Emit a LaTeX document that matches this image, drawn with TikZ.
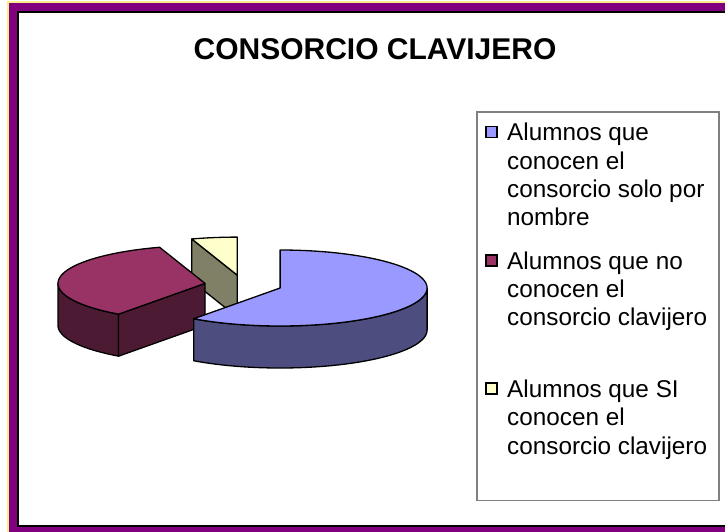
\documentclass[tikz,border=0pt]{standalone}
\usepackage{fontspec}
\setmainfont{Liberation Sans}
\definecolor{frameP}{HTML}{800080}
\definecolor{frameY}{HTML}{FFEE88}
\definecolor{blueT}{HTML}{9999FF}
\definecolor{blueS}{HTML}{4D4D80}
\definecolor{marT}{HTML}{993366}
\definecolor{marS}{HTML}{4D1A33}
\definecolor{yelT}{HTML}{FFFFCC}
\definecolor{yelS}{HTML}{808066}
\definecolor{legB}{HTML}{808080}
\tikzset{
  face/.style={draw=black,line width=1.3pt,line join=round},
  legtxt/.style={anchor=base west,inner sep=0pt,font=\fontsize{24.3}{28}\selectfont},
  legsq/.style={draw=black,line width=1.1pt,minimum size=11pt,inner sep=0pt},
}
\begin{document}
\begin{tikzpicture}[x=1pt,y=-1pt]
\useasboundingbox (0,0) rectangle (725,531);
\clip (0,0) rectangle (725,531);
\fill[white] (0,0) rectangle (725,531);
% frame
\fill[frameY] (7,1) rectangle (730,540);
\fill[frameP] (8.5,2.5) rectangle (730,540);
\draw[fill=white,line width=2pt] (18,12) rectangle (740,526);
% title
\node[anchor=base,inner sep=0pt,font=\fontsize{30}{34}\selectfont\bfseries] (title) at (375,59) {CONSORCIO CLAVIJERO};
% pie parameters
\def\rx{147}\def\ry{38}\def\hh{42}
% yellow slice, centre (237.2,275.1), 90..108
\def\cx{237.2}\def\cy{275.1}
\fill[yelS] (\cx,\cy) -- ({\cx+\rx*cos(108)},{\cy-\ry*sin(108)}) -- ({\cx+\rx*cos(108)},{\cy-\ry*sin(108)+\hh}) -- (\cx,\cy+\hh) -- cycle;
\draw[face] (\cx,\cy) -- ({\cx+\rx*cos(108)},{\cy-\ry*sin(108)}) -- ({\cx+\rx*cos(108)},{\cy-\ry*sin(108)+\hh}) -- (\cx,\cy+\hh) -- cycle;
\draw[face,fill=yelT] (\cx,\cy) -- plot[domain=90:108,samples=10] ({\cx+\rx*cos(\x)},{\cy-\ry*sin(\x)}) -- cycle;
% maroon slice, centre (205,283.4), 108..234
\def\cx{205}\def\cy{283.4}
\draw[face,fill=marS] plot[domain=180:234,samples=30] ({\cx+\rx*cos(\x)},{\cy-\ry*sin(\x)}) -- plot[domain=234:180,samples=30] ({\cx+\rx*cos(\x)},{\cy-\ry*sin(\x)+\hh}) -- cycle;
\draw[face,fill=marS] (\cx,\cy) -- ({\cx+\rx*cos(234)},{\cy-\ry*sin(234)}) -- ({\cx+\rx*cos(234)},{\cy-\ry*sin(234)+\hh}) -- (\cx,\cy+\hh) -- cycle;
\draw[face,fill=marT] (\cx,\cy) -- plot[domain=108:234,samples=60] ({\cx+\rx*cos(\x)},{\cy-\ry*sin(\x)}) -- cycle;
% blue slice, centre (280.1,288), 234..450
\def\cx{280.1}\def\cy{288}
\draw[face,fill=blueS] plot[domain=234:360,samples=50] ({\cx+\rx*cos(\x)},{\cy-\ry*sin(\x)}) -- plot[domain=360:234,samples=50] ({\cx+\rx*cos(\x)},{\cy-\ry*sin(\x)+\hh}) -- cycle;
\draw[face,fill=blueT] (\cx,\cy) -- plot[domain=234:450,samples=90] ({\cx+\rx*cos(\x)},{\cy-\ry*sin(\x)}) -- cycle;
% legend
\draw[legB,line width=1.5pt,fill=white] (477,112) rectangle (719,500.5);
\node[legsq,fill=blueT] (s1) at (491.5,132.3) {};
\node[legsq,fill=marT] (s2) at (491.5,260.5) {};
\node[legsq,fill=yelT] (s3) at (491.5,388.5) {};
\node[legtxt] (a1) at (507,140.7) {Alumnos que};
\node[legtxt] (a2) at (507,169) {conocen el};
\node[legtxt] (a3) at (507,197.3) {consorcio solo por};
\node[legtxt] (a4) at (507,225.7) {nombre};
\node[legtxt] (b1) at (507,269.3) {Alumnos que no};
\node[legtxt] (b2) at (507,297.5) {conocen el};
\node[legtxt] (b3) at (507,325.7) {consorcio clavijero};
\node[legtxt] (c1) at (507,397.7) {Alumnos que SI};
\node[legtxt] (c2) at (507,425.8) {conocen el};
\node[legtxt] (c3) at (507,454) {consorcio clavijero};
\end{tikzpicture}
\end{document}
